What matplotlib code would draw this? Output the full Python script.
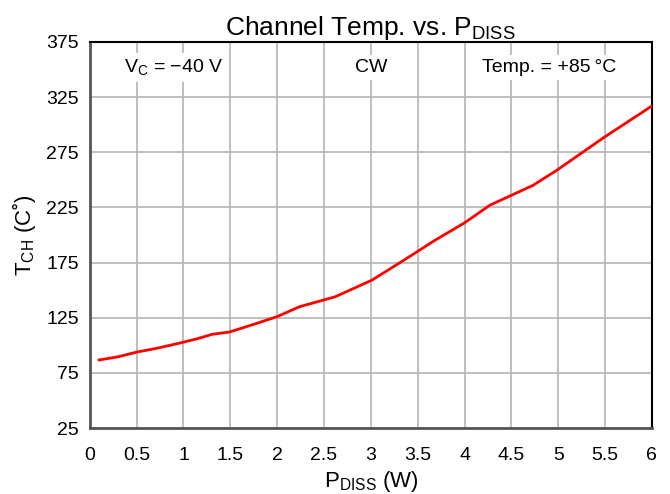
import matplotlib
matplotlib.use('Agg')
import matplotlib.pyplot as plt
import numpy as np

plt.rcParams['font.family'] = ['Liberation Sans', 'DejaVu Sans']
plt.rcParams['mathtext.fontset'] = 'custom'
plt.rcParams['mathtext.rm'] = 'Liberation Sans'

# 读图数据
功率 = [0.1, 0.3, 0.51, 0.7, 0.96, 1.15, 1.31, 1.49, 1.75, 2.0, 2.24, 2.62, 3.01, 3.35, 3.68, 4.0, 4.27, 4.73, 4.99, 5.48, 6.0]
温度 = [86.7, 89.5, 94, 97, 102, 106, 110, 112, 119, 126, 135, 144, 159, 177, 195, 211, 227, 245, 259, 288, 317]
x刻度 = [0, 0.5, 1, 1.5, 2, 2.5, 3, 3.5, 4, 4.5, 5, 5.5, 6]
x标签 = ['0', '0.5', '1', '1.5', '2', '2.5', '3', '3.5', '4', '4.5', '5', '5.5', '6']
y刻度 = [25, 75, 125, 175, 225, 275, 325, 375]

fig = plt.figure(figsize=(6.7, 4.94), dpi=100)
ax = fig.add_axes([0.134, 0.1336, 0.839, 0.7814])
ax.plot(功率, 温度, color='#ff0000', lw=2, zorder=3)
ax.set_xlim(0, 6)
ax.set_ylim(25, 375)
ax.set_xticks(x刻度)
ax.set_xticklabels(x标签)
ax.set_yticks(y刻度)
ax.tick_params(length=0, labelsize=14)
ax.tick_params(axis='x', pad=14)
ax.tick_params(axis='y', pad=8)
ax.grid(True, color='#b4b4b4', lw=1.2, zorder=1)
ax.set_axisbelow(True)
for s in ['top', 'right']:
    ax.spines[s].set_color('black')
    ax.spines[s].set_linewidth(1.5)
for s in ['left', 'bottom']:
    ax.spines[s].set_color('#555555')
    ax.spines[s].set_linewidth(2)

box = dict(facecolor='white', edgecolor='none', pad=3)
ax.text(0.9, 352, 'V$_{\\mathregular{C}}$ = \u221240 V', ha='center', va='center', fontsize=14, bbox=box, zorder=2)
ax.text(3.0, 352, 'CW', ha='center', va='center', fontsize=14, bbox=box, zorder=2)
ax.text(4.9, 352, 'Temp. = +85\u2009°C', ha='center', va='center', fontsize=14, bbox=box, zorder=2)

ax.set_title('Channel Temp. vs. P$_{\\mathregular{DISS}}$', fontsize=19, pad=3)
ax.set_xlabel('P$_{\\mathregular{DISS}}$ (W)', fontsize=16, labelpad=3)
ax.set_ylabel('T$_{\\mathregular{CH}}$ (C\u02da)', fontsize=16, labelpad=6)

fig.savefig('out.png', dpi=100)
